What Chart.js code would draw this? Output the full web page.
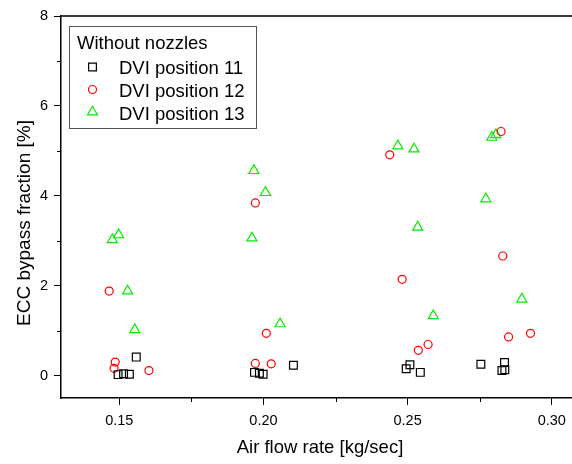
<!DOCTYPE html>
<html>
<head>
<meta charset="utf-8">
<script src="https://cdn.jsdelivr.net/npm/chart.js@4/dist/chart.umd.min.js"></script>
<style>
  html, body { margin: 0; padding: 0; background: #fff; overflow: hidden; }
</style>
</head>
<body>
<canvas id="chart" width="572" height="464"></canvas>
<script>
// Datos
const xTicks = [0.15, 0.20, 0.25, 0.30];
const yTicks = [0, 2, 4, 6, 8];

const pos11X = [0.1559, 0.1496, 0.1515, 0.1535, 0.1969, 0.1986, 0.1999, 0.2104, 0.2495, 0.2508, 0.2544, 0.2754, 0.2836, 0.2827, 0.2837];
const pos11Y = [0.41, 0.02, 0.04, 0.03, 0.07, 0.05, 0.03, 0.23, 0.15, 0.24, 0.07, 0.25, 0.29, 0.11, 0.13];

const pos12X = [0.1465, 0.1486, 0.1482, 0.1603, 0.1972, 0.2010, 0.1972, 0.2027, 0.2438, 0.2824, 0.2830, 0.2481, 0.2571, 0.2537, 0.2850, 0.2926];
const pos12Y = [1.88, 0.30, 0.16, 0.11, 3.84, 0.94, 0.27, 0.26, 4.91, 5.43, 2.66, 2.14, 0.69, 0.56, 0.86, 0.94];

const pos13X = [0.1498, 0.1476, 0.1529, 0.1554, 0.1967, 0.2007, 0.1960, 0.2058, 0.2466, 0.2522, 0.2792, 0.2806, 0.2771, 0.2535, 0.2896, 0.2589];
const pos13Y = [3.13, 3.02, 1.88, 1.02, 4.56, 4.07, 3.06, 1.15, 5.11, 5.04, 5.30, 5.36, 3.93, 3.30, 1.70, 1.33];

const legendTitle = 'Without nozzles';
const seriesNames = ['DVI position 11', 'DVI position 12', 'DVI position 13'];

const FONT = 'Arial, "Liberation Sans", sans-serif';
const toPoints = (xs, ys) => xs.map((x, i) => ({ x: x, y: ys[i] }));

const seriesStyle = [
    { color: '#000000', style: 'rect', radius: 5.5 },
    { color: '#ff0000', style: 'circle', radius: 4 },
    { color: '#00ee00', style: 'triangle', radius: 5.8 }
];

// Ticks menores, borde superior, títulos de ejes y leyenda
const extras = {
    id: 'extras',
    afterDraw(chart) {
        const ctx = chart.ctx;
        const area = chart.chartArea;
        const xs = chart.scales.x;
        const ys = chart.scales.y;
        ctx.save();
        ctx.strokeStyle = '#000';
        ctx.lineWidth = 1.5;
        ctx.beginPath();
        ctx.moveTo(area.left, area.top);
        ctx.lineTo(area.right, area.top);
        ctx.stroke();

        ctx.lineWidth = 1;
        ctx.beginPath();
        [1, 3, 5, 7].forEach(v => {
            const py = Math.round(ys.getPixelForValue(v)) + 0.5;
            ctx.moveTo(area.left, py);
            ctx.lineTo(area.left - 4, py);
        });
        [0.175, 0.225, 0.275].forEach(v => {
            const px = Math.round(xs.getPixelForValue(v)) + 0.5;
            ctx.moveTo(px, area.bottom);
            ctx.lineTo(px, area.bottom + 4);
        });
        ctx.stroke();

        // títulos
        ctx.fillStyle = '#000';
        ctx.font = '18.5px ' + FONT;
        ctx.textAlign = 'center';
        ctx.textBaseline = 'alphabetic';
        ctx.fillText('Air flow rate [kg/sec]', 320, 453);
        ctx.save();
        ctx.translate(30, 223);
        ctx.rotate(-Math.PI / 2);
        ctx.font = '19px ' + FONT;
        ctx.fillText('ECC bypass fraction [%]', 0, 0);
        ctx.restore();

        // leyenda
        ctx.strokeStyle = '#555';
        ctx.lineWidth = 1;
        ctx.strokeRect(69.5, 26.5, 187, 102);
        ctx.textAlign = 'left';
        ctx.font = '18.5px ' + FONT;
        ctx.fillText(legendTitle, 77, 49);
        const rowY = [67, 89.5, 112];
        const baseY = [73.5, 96.5, 119.5];
        seriesNames.forEach((name, i) => {
            const s = seriesStyle[i];
            ctx.strokeStyle = s.color;
            ctx.fillStyle = 'rgba(0,0,0,0)';
            ctx.lineWidth = 1.2;
            Chart.helpers.drawPoint(ctx, { pointStyle: s.style, radius: s.radius, borderWidth: 1.2 }, 92.5, rowY[i]);
            ctx.fillStyle = '#000';
            ctx.fillText(name, 119, baseY[i]);
        });
        ctx.restore();
    }
};

new Chart(document.getElementById('chart'), {
    type: 'scatter',
    data: {
        datasets: [pos11X, pos12X, pos13X].map((xs, i) => ({
            label: seriesNames[i],
            data: toPoints(xs, [pos11Y, pos12Y, pos13Y][i]),
            pointStyle: seriesStyle[i].style,
            pointRadius: seriesStyle[i].radius,
            pointBorderColor: seriesStyle[i].color,
            pointBackgroundColor: 'rgba(0,0,0,0)',
            pointBorderWidth: 1.2,
            pointHoverRadius: seriesStyle[i].radius
        }))
    },
    options: {
        responsive: false,
        animation: false,
        layout: { autoPadding: false, padding: { top: 16, right: 0, bottom: 0, left: 0 } },
        scales: {
            x: {
                type: 'linear',
                min: 0.1298,
                max: 0.307,
                afterBuildTicks: s => { s.ticks = xTicks.map(v => ({ value: v })); },
                afterFit: s => { s.height = 66; s.paddingRight = 0; s.paddingLeft = 0; },
                grid: { drawOnChartArea: false, tickLength: 7, color: '#000', tickWidth: 1 },
                border: { color: '#000', width: 1.5 },
                ticks: {
                    padding: 7,
                    color: '#000',
                    font: { family: FONT, size: 14.5 },
                    maxRotation: 0,
                    callback: v => v.toFixed(2)
                }
            },
            y: {
                type: 'linear',
                min: -0.5,
                max: 8,
                afterBuildTicks: s => { s.ticks = yTicks.map(v => ({ value: v })); },
                afterFit: s => { s.width = 61; s.paddingTop = 0; s.paddingBottom = 0; },
                grid: { drawOnChartArea: false, tickLength: 7, color: '#000', tickWidth: 1 },
                border: { color: '#000', width: 1.5 },
                ticks: {
                    padding: 6,
                    color: '#000',
                    font: { family: FONT, size: 14.5 },
                    callback: v => String(v)
                }
            }
        },
        plugins: {
            legend: { display: false },
            tooltip: { enabled: false }
        }
    },
    plugins: [extras]
});
</script>
</body>
</html>
